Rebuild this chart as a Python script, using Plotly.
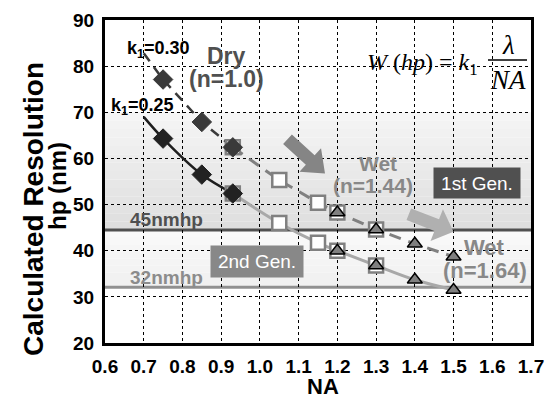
import math
import plotly.graph_objects as go

# ---------------- data ----------------
# k1 = 0.30 curve
k30_dry_line_x = [0.70, 0.75, 0.85, 0.93]
k30_dry_line_y = [82.8, 77.1, 67.9, 62.4]
k30_wet_line_x = [0.93, 1.05, 1.15, 1.20, 1.30, 1.40, 1.50]
k30_wet_line_y = [62.4, 55.3, 50.4, 48.3, 44.6, 41.5, 38.7]
# k1 = 0.25 curve
k25_dry_line_x = [0.70, 0.75, 0.85, 0.93]
k25_dry_line_y = [69.0, 64.3, 56.5, 52.4]
k25_wet_line_x = [0.93, 1.05, 1.15, 1.20, 1.30, 1.40, 1.50]
k25_wet_line_y = [52.4, 46.0, 41.7, 40.0, 36.8, 33.7, 31.5]

# markers
dry_na = [0.75, 0.85, 0.93]
dry_k30 = [77.1, 67.9, 62.4]
dry_k25 = [64.3, 56.5, 52.4]
wet144_na = [0.93, 1.05, 1.15, 1.20, 1.30]
wet144_k30 = [62.4, 55.3, 50.4, 48.3, 44.6]
wet144_k25 = [52.4, 46.0, 41.7, 40.0, 36.8]
wet164_na = [1.20, 1.30, 1.40, 1.50]
wet164_k30 = [48.3, 44.6, 41.5, 38.7]
wet164_k25 = [40.0, 36.8, 33.7, 31.5]

hp45 = 44.5
hp32 = 32.1

x_ticks = [0.6, 0.7, 0.8, 0.9, 1.0, 1.1, 1.2, 1.3, 1.4, 1.5, 1.6, 1.7]
y_ticks = [20, 30, 40, 50, 60, 70, 80, 90]

FONT = "Liberation Sans"
SERIF = "Liberation Serif"

W, H = 547, 397
ML, MR, MT, MB = 105, 16, 20, 54
X0, X1 = 0.6, 1.7
Y0, Y1 = 20, 90
PW, PH = W - ML - MR, H - MT - MB


def px2data(px, py):
    return (X0 + (px - ML) / PW * (X1 - X0), Y1 - (py - MT) / PH * (Y1 - Y0))


def px2paper(px, py):
    return ((px - ML) / PW, (H - MB - py) / PH)


def arrow_path(tail, tip, shaft_w, head_w, head_l):
    tx, ty = tail
    hx, hy = tip
    L = math.hypot(hx - tx, hy - ty)
    ux, uy = (hx - tx) / L, (hy - ty) / L
    nx, ny = -uy, ux
    bx, by = hx - ux * head_l, hy - uy * head_l
    pts = [
        (tx + nx * shaft_w / 2, ty + ny * shaft_w / 2),
        (bx + nx * shaft_w / 2, by + ny * shaft_w / 2),
        (bx + nx * head_w / 2, by + ny * head_w / 2),
        (hx, hy),
        (bx - nx * head_w / 2, by - ny * head_w / 2),
        (bx - nx * shaft_w / 2, by - ny * shaft_w / 2),
        (tx - nx * shaft_w / 2, ty - ny * shaft_w / 2),
    ]
    d = [px2data(*p) for p in pts]
    return "M " + " L ".join(f"{x:.5f},{y:.4f}" for x, y in d) + " Z"


fig = go.Figure()

# ---------------- lines ----------------
fig.add_trace(go.Scatter(x=k30_wet_line_x, y=k30_wet_line_y, mode="lines",
                         line=dict(color="#808080", width=3, dash="12px,8px"), hoverinfo="skip"))
fig.add_trace(go.Scatter(x=k25_wet_line_x, y=k25_wet_line_y, mode="lines",
                         line=dict(color="#a8a8a8", width=3, shape="spline"), hoverinfo="skip"))
fig.add_trace(go.Scatter(x=k30_dry_line_x, y=k30_dry_line_y, mode="lines",
                         line=dict(color="#3a3a3a", width=2.5, dash="10px,7px"), hoverinfo="skip"))
fig.add_trace(go.Scatter(x=k25_dry_line_x, y=k25_dry_line_y, mode="lines",
                         line=dict(color="#1e1e1e", width=2.5, shape="spline"), hoverinfo="skip"))

# ---------------- markers ----------------
sq = dict(symbol="square", size=14, color="white", line=dict(color="#808080", width=2.5))
fig.add_trace(go.Scatter(x=wet144_na, y=wet144_k30, mode="markers", marker=sq))
fig.add_trace(go.Scatter(x=wet144_na, y=wet144_k25, mode="markers", marker=sq))
fig.add_trace(go.Scatter(x=dry_na, y=dry_k30, mode="markers",
                         marker=dict(symbol="diamond", size=15, color="#3a3a3a",
                                     line=dict(color="#3a3a3a", width=1))))
fig.add_trace(go.Scatter(x=dry_na, y=dry_k25, mode="markers",
                         marker=dict(symbol="diamond", size=15, color="#222222",
                                     line=dict(color="#222222", width=1))))
tri = dict(symbol="triangle-up", size=13, color="#808080", line=dict(color="black", width=1.5))
fig.add_trace(go.Scatter(x=wet164_na, y=wet164_k30, mode="markers", marker=tri))
fig.add_trace(go.Scatter(x=wet164_na, y=wet164_k25, mode="markers", marker=tri))

# ---------------- background bands (gradient) ----------------
shapes = []
n = 14
top, bot = 70.0, hp45
for i in range(n):
    y0 = top - (top - bot) * i / n
    y1 = top - (top - bot) * (i + 1) / n
    c = int(246 - (246 - 222) * (i + 0.5) / n)
    shapes.append(dict(type="rect", xref="paper", yref="y", x0=0, x1=1, y0=y1, y1=y0,
                       fillcolor=f"rgb({c},{c},{c})", line=dict(width=0), layer="below"))
n2 = 8
for i in range(n2):
    y0 = hp45 - (hp45 - hp32) * i / n2
    y1 = hp45 - (hp45 - hp32) * (i + 1) / n2
    c = int(250 - (250 - 240) * (i + 0.5) / n2)
    shapes.append(dict(type="rect", xref="paper", yref="y", x0=0, x1=1, y0=y1, y1=y0,
                       fillcolor=f"rgb({c},{c},{c})", line=dict(width=0), layer="below"))
# hp lines
shapes.append(dict(type="line", xref="paper", yref="y", x0=0, x1=1, y0=hp45, y1=hp45,
                   line=dict(color="#505050", width=3), layer="between"))
shapes.append(dict(type="line", xref="paper", yref="y", x0=0, x1=1, y0=hp32, y1=hp32,
                   line=dict(color="#909090", width=3), layer="between"))
# fraction bar of formula
fb0 = px2data(488, 60)
fb1 = px2data(527, 60)
shapes.append(dict(type="line", xref="x", yref="y", x0=fb0[0], x1=fb1[0], y0=fb0[1], y1=fb1[1],
                   line=dict(color="black", width=1.5)))
# block arrows
shapes.append(dict(type="path", xref="x", yref="y",
                   path=arrow_path((287.5, 139.2), (325, 173.5), 13, 32, 20),
                   fillcolor="#858585", line=dict(width=0)))
shapes.append(dict(type="path", xref="x", yref="y",
                   path=arrow_path((408.8, 214.2), (453.5, 231.7), 12.5, 34, 18),
                   fillcolor="#b0b0b0", line=dict(width=0)))

ann = []


def txt(px, py, t, size, color, family=FONT, **kw):
    x, y = px2data(px, py)
    ann.append(dict(x=x, y=y, xref="x", yref="y", text=t, showarrow=False,
                    xanchor="center", yanchor="middle",
                    font=dict(family=family, size=size, color=color), **kw))


def ptxt(px, py, t, size, angle=0):
    x, y = px2paper(px, py)
    ann.append(dict(x=x, y=y, xref="paper", yref="paper", text=t, showarrow=False,
                    xanchor="center", yanchor="middle", textangle=angle,
                    font=dict(family=FONT, size=size, color="black")))


txt(158, 49, "<b>k<sub>1</sub>=0.30</b>", 18, "black")
txt(142, 106, "<b>k<sub>1</sub>=0.25</b>", 18, "black")
txt(226, 56, "<b>Dry</b>", 23, "#505050")
txt(226.5, 79, "<b>(n=1.0)</b>", 23, "#505050")
txt(377.5, 163, "<b>Wet</b>", 21, "#888888")
txt(372.5, 185, "<b>(n=1.44)</b>", 21, "#888888")
txt(484, 247, "<b>Wet</b>", 22, "#888888")
txt(485, 270, "<b>(n=1.64)</b>", 22, "#888888")
txt(166.5, 219.5, "<b>45nmhp</b>", 19, "#505050")
txt(166.5, 277, "<b>32nmhp</b>", 19, "#8c8c8c")
txt(477, 183, "1st Gen.", 19, "white", bgcolor="#505050", borderpad=4,
    width=78, height=22)
txt(257, 261.5, "2nd Gen.", 19, "white", bgcolor="#888888", borderpad=4,
    width=84, height=23)
# formula
txt(422.5, 64, "<i>W</i> (<i>hp</i>) = <i>k</i><sub>1</sub>", 24, "black", family=SERIF)
txt(508, 45, "<i>λ</i>", 27, "black", family=SERIF)
txt(508, 80, "<i>NA</i>", 27, "black", family=SERIF)

# axis titles
ptxt(33, 209, "<b>Calculated Resolution</b>", 28, angle=-90)
ptxt(58, 186, "<b>hp (nm)</b>", 24, angle=-90)
ptxt(322.5, 386, "<b>NA</b>", 22)

fig.update_layout(
    width=W, height=H,
    margin=dict(l=ML, r=MR, t=MT, b=MB, autoexpand=False),
    paper_bgcolor="white", plot_bgcolor="white",
    showlegend=False,
    shapes=shapes, annotations=ann,
    font=dict(family=FONT, color="black"),
    xaxis=dict(range=[X0, X1], tickvals=x_ticks, ticktext=[f"{v:.1f}" for v in x_ticks],
               tickfont=dict(family=FONT, size=19, color="black", weight="bold"),
               showgrid=True, gridcolor="black", griddash="dot", gridwidth=1,
               showline=True, linecolor="black", linewidth=3, mirror=True,
               ticks="", zeroline=False, automargin=False, ticklabelstandoff=4),
    yaxis=dict(range=[Y0, Y1], tickvals=y_ticks,
               tickfont=dict(family=FONT, size=19, color="black", weight="bold"),
               showgrid=True, gridcolor="black", griddash="dot", gridwidth=1,
               showline=True, linecolor="black", linewidth=3, mirror=True,
               ticks="", zeroline=False, automargin=False, ticklabelstandoff=4),
)

fig.write_html("out.html", config={"displayModeBar": False},
               post_script="document.body.style.margin='0';document.body.style.padding='0';")
